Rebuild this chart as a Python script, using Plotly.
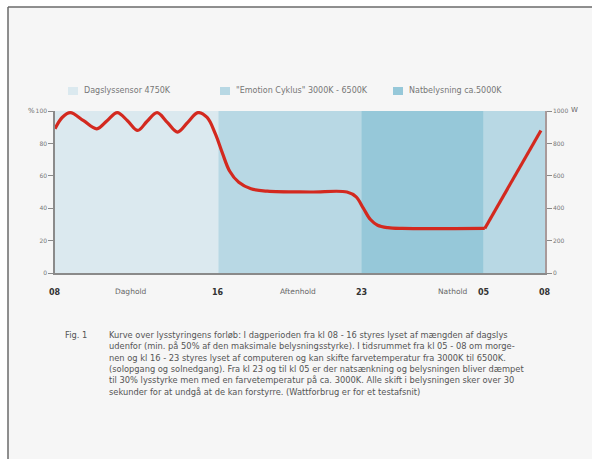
import plotly.graph_objects as go

# ---- data ----
band_start = [0, 8, 15, 21]
band_end = [8, 15, 21, 24]
band_colors = ["#dbe9ef", "#b8d8e4", "#96c8d9", "#b8d8e4"]

legend_labels = ["Dagslyssensor 4750K", "\"Emotion Cyklus\" 3000K - 6500K", "Natbelysning ca.5000K"]
legend_colors = ["#dbe9ef", "#b8d8e4", "#96c8d9"]

hour_ticks = [0, 8, 15, 21, 24]
hour_labels = ["08", "16", "23", "05", "08"]
period_x = [3.7, 11.9, 19.5]
period_labels = ["Daghold", "Aftenhold", "Nathold"]

curve_hours = [0, 0.35, 0.75, 1.4, 2.05, 2.55, 3.05, 3.55, 4.05, 4.5, 5.0, 5.5, 6.0, 6.5, 7.0,
               7.45, 7.85, 8.2, 8.55, 9.0, 9.6, 10.4, 12.5, 14.3, 14.75, 15.1, 15.45, 15.8, 16.3, 17.0, 21.05]
curve_pct = [89, 96, 99, 94, 89, 94, 99, 94, 88, 93.5, 99, 93, 87, 93, 99,
             96, 86, 74, 63, 56, 52, 50.5, 50, 50, 47, 40, 33, 29.5, 28, 27.5, 27.5]
ramp_hours = [21.05, 23.8]
ramp_pct = [27.5, 88]

left_ticks = [0, 20, 40, 60, 80, 100]
right_ticks = [0, 200, 400, 600, 800, 1000]

caption_label = "Fig. 1"
caption_lines = [
    "Kurve over lysstyringens forløb: I dagperioden fra kl 08 - 16 styres lyset af mængden af dagslys",
    "udenfor (min. på 50% af den maksimale belysningsstyrke). I tidsrummet fra kl 05 - 08 om morge-",
    "nen og kl 16 - 23 styres lyset af computeren og kan skifte farvetemperatur fra 3000K til 6500K.",
    "(solopgang og solnedgang). Fra kl 23 og til kl 05 er der natsænkning og belysningen bliver dæmpet",
    "til 30% lysstyrke men med en farvetemperatur på ca. 3000K. Alle skift i belysningen sker over 30",
    "sekunder for at undgå at de kan forstyrre. (Wattforbrug er for et testafsnit)",
]

# ---- figure ----
W, H = 592, 459
L, R, T, B = 55, 47, 111, 186
pw, ph = W - L - R, H - T - B
FONT = "DejaVu Sans, Verdana, sans-serif"


def px(xp):
    return (xp - L) / pw


def py(yp):
    return (H - B - yp) / ph


fig = go.Figure()

line_color = "#d3291f"
fig.add_trace(go.Scatter(x=curve_hours, y=curve_pct, mode="lines",
                         line=dict(color=line_color, width=3.2, shape="spline", smoothing=1.0),
                         hoverinfo="skip", showlegend=False))
fig.add_trace(go.Scatter(x=ramp_hours, y=ramp_pct, mode="lines",
                         line=dict(color=line_color, width=3.2),
                         hoverinfo="skip", showlegend=False))
fig.add_trace(go.Scatter(x=[None], y=[None], yaxis="y2", showlegend=False))

shapes = []
# page frame
shapes.append(dict(type="rect", xref="paper", yref="paper", x0=px(8), x1=px(600), y0=py(7), y1=py(470),
                   fillcolor="#f6f6f6", line=dict(width=0), layer="below"))
shapes.append(dict(type="line", xref="paper", yref="paper", x0=px(8), x1=px(600), y0=py(7), y1=py(7),
                   line=dict(color="#6a6a6a", width=1.5)))
shapes.append(dict(type="line", xref="paper", yref="paper", x0=px(8), x1=px(8), y0=py(7), y1=py(470),
                   line=dict(color="#6a6a6a", width=1.5)))
# bands
for s, e, c in zip(band_start, band_end, band_colors):
    shapes.append(dict(type="rect", xref="x", yref="y", x0=s, x1=e, y0=0, y1=100,
                       fillcolor=c, line=dict(width=0), layer="below"))

annotations = []
# legend
leg_sq_x = [68, 220, 393]
for i, (lab, col) in enumerate(zip(legend_labels, legend_colors)):
    x0 = leg_sq_x[i]
    shapes.append(dict(type="rect", xref="paper", yref="paper", x0=px(x0), x1=px(x0 + 10),
                       y0=py(95), y1=py(87), fillcolor=col, line=dict(width=0)))
    annotations.append(dict(xref="paper", yref="paper", x=px(x0 + 14), y=py(91), text=lab,
                            showarrow=False, xanchor="left", yanchor="middle",
                            font=dict(size=8, color="#777777", family=FONT)))

# hour labels
for h, lab in zip(hour_ticks, hour_labels):
    annotations.append(dict(xref="x", yref="paper", x=h, y=py(292), text="<b>%s</b>" % lab,
                            showarrow=False, xanchor="center", yanchor="middle",
                            font=dict(size=8, color="#333333", family=FONT)))
for xh, lab in zip(period_x, period_labels):
    annotations.append(dict(xref="x", yref="paper", x=xh, y=py(291), text=lab,
                            showarrow=False, xanchor="center", yanchor="middle",
                            font=dict(size=7.5, color="#666666", family=FONT)))

# unit labels
annotations.append(dict(xref="paper", yref="paper", x=px(31), y=py(111), text="%", showarrow=False,
                        xanchor="center", yanchor="middle", font=dict(size=7, color="#666666", family=FONT)))
annotations.append(dict(xref="paper", yref="paper", x=px(574), y=py(110), text="W", showarrow=False,
                        xanchor="center", yanchor="middle", font=dict(size=7, color="#666666", family=FONT)))

# caption
annotations.append(dict(xref="paper", yref="paper", x=px(63), y=py(335), text=caption_label,
                        showarrow=False, xanchor="left", yanchor="middle",
                        font=dict(size=8.3, color="#555555", family=FONT)))
for i, line in enumerate(caption_lines):
    annotations.append(dict(xref="paper", yref="paper", x=px(107), y=py(335 + 11.3 * i), text=line,
                            showarrow=False, xanchor="left", yanchor="middle",
                            font=dict(size=8.3, color="#555555", family=FONT)))

axis_color = "#8a8a8a"
fig.update_layout(
    width=W, height=H,
    margin=dict(l=L, r=R, t=T, b=B, pad=0),
    paper_bgcolor="#ffffff",
    plot_bgcolor="rgba(0,0,0,0)",
    showlegend=False,
    shapes=shapes,
    annotations=annotations,
    xaxis=dict(range=[0, 24], showgrid=False, zeroline=False, showline=True, linecolor=axis_color,
               linewidth=1.5, showticklabels=False, ticks="", fixedrange=True),
    yaxis=dict(range=[0, 100], tickvals=left_ticks, showgrid=False, zeroline=False, showline=True,
               linecolor=axis_color, linewidth=1.5, ticks="outside", ticklen=5, tickcolor=axis_color,
               tickfont=dict(size=6, color="#777777", family=FONT), fixedrange=True),
    yaxis2=dict(range=[0, 1000], tickvals=right_ticks, overlaying="y", side="right", showgrid=False,
                zeroline=False, showline=True, linecolor="#a89a9a", linewidth=1.5, ticks="outside",
                ticklen=5, tickcolor=axis_color, tickfont=dict(size=6, color="#777777", family=FONT),
                fixedrange=True),
    font=dict(family=FONT),
)

fig.write_html("out.html")
